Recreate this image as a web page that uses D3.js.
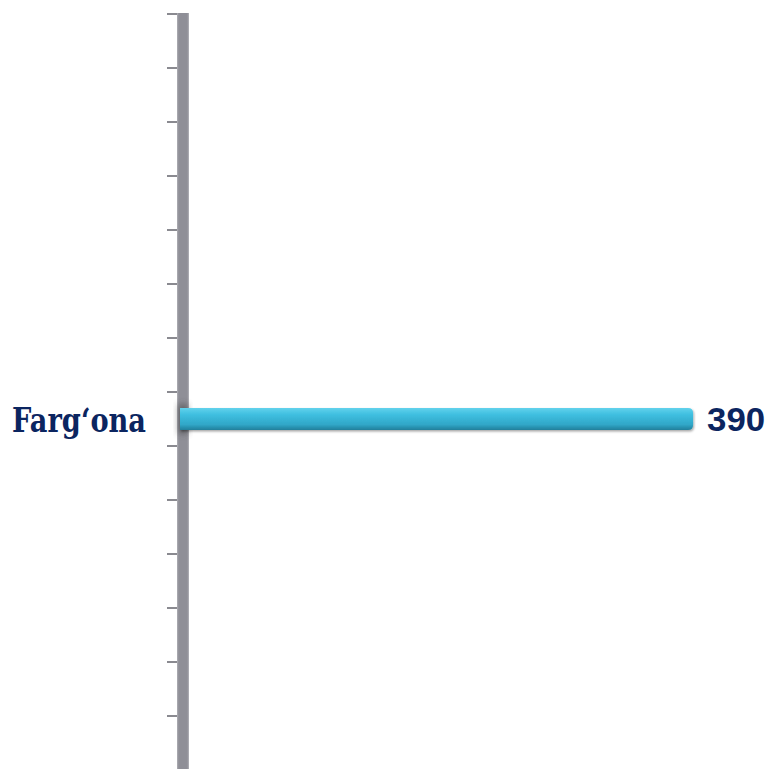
<!DOCTYPE html>
<html><head><meta charset="utf-8">
<script src="https://cdn.jsdelivr.net/npm/d3@7"></script>
<style>html,body{margin:0;padding:0;background:#fff;overflow:hidden}</style>
</head><body>
<svg id="c" width="770" height="769"></svg>
<script>
// Data
const categories = ["r1","r2","r3","r4","r5","r6","r7","Farg‘ona","r9","r10","r11","r12","r13","r14"];
const labels = ["","","","","","","","Farg‘ona","","","","","",""];
const values = [null,null,null,null,null,null,null,390,null,null,null,null,null,null];
const xMax = 450;

const svg = d3.select("#c");
const defs = svg.append("defs");
const g1 = defs.append("linearGradient").attr("id","barGrad").attr("x1",0).attr("y1",0).attr("x2",0).attr("y2",1);
g1.append("stop").attr("offset","0%").attr("stop-color","#62d2ec");
g1.append("stop").attr("offset","30%").attr("stop-color","#3fbfe0");
g1.append("stop").attr("offset","75%").attr("stop-color","#30a7c8");
g1.append("stop").attr("offset","100%").attr("stop-color","#217f9b");
const f = defs.append("filter").attr("id","sh").attr("x","-5%").attr("y","-50%").attr("width","110%").attr("height","220%");
f.append("feDropShadow").attr("dx",1).attr("dy",1.5).attr("stdDeviation",1.2).attr("flood-color","#000").attr("flood-opacity",0.35);
const fb = defs.append("filter").attr("id","blur").attr("x","-50%").attr("y","-50%").attr("width","200%").attr("height","200%");
fb.append("feGaussianBlur").attr("stdDeviation",3);
const g2 = defs.append("linearGradient").attr("id","axGrad").attr("x1",0).attr("y1",0).attr("x2",1).attr("y2",0);
g2.append("stop").attr("offset","0%").attr("stop-color","#b0b0b6");
g2.append("stop").attr("offset","15%").attr("stop-color","#8f8f97");
g2.append("stop").attr("offset","85%").attr("stop-color","#8f8f97");
g2.append("stop").attr("offset","100%").attr("stop-color","#b4b4ba");

const y = d3.scaleBand().domain(categories).range([14, 770]).paddingInner(0).paddingOuter(0);
const x = d3.scaleLinear().domain([0, xMax]).range([180, 772]);

// ticks at band edges
const edges = categories.map(c => y(c)).concat([y.range()[1]]);
svg.append("g").selectAll("line").data(edges).join("line")
  .attr("x1",167).attr("x2",180).attr("y1",d=>d).attr("y2",d=>d)
  .attr("stroke","#8a8a90").attr("stroke-width",2);

// axis bar
svg.append("rect").attr("x",177).attr("y",13).attr("width",12).attr("height",770)
  .attr("fill","url(#axGrad)");

// bars
const data = categories.map((c,i)=>({c, label: labels[i], v: values[i]})).filter(d=>d.v!=null);
const bh = 22;
// dark shading on axis behind bar start
svg.append("g").selectAll("rect").data(data).join("rect")
  .attr("x",178).attr("width",10)
  .attr("y",d=>y(d.c)+y.bandwidth()/2-15).attr("height",30)
  .attr("fill","#333").attr("opacity",0.45).attr("filter","url(#blur)");
svg.append("g").selectAll("path").data(data).join("path")
  .attr("filter","url(#sh)")
  .attr("fill","url(#barGrad)")
  .attr("d", d => {
    const x0 = x(0), x1 = x(d.v), yc = y(d.c)+y.bandwidth()/2, y0 = yc-bh/2, r = 5;
    return `M${x0},${y0} H${x1-r} Q${x1},${y0} ${x1},${y0+r} V${y0+bh-r} Q${x1},${y0+bh} ${x1-r},${y0+bh} H${x0} Z`;
  });

// value labels
svg.append("g").selectAll("text").data(data).join("text")
  .attr("x", d => x(d.v)+14).attr("y", d => y(d.c)+y.bandwidth()/2+12)
  .attr("font-family","'Liberation Sans', Arial, sans-serif").attr("font-weight","bold")
  .attr("font-size",34).attr("fill","#0b2560")
  .attr("textLength",58).attr("lengthAdjust","spacingAndGlyphs")
  .text(d => d.v);

// category labels
svg.append("g").selectAll("text").data(data).join("text")
  .attr("x", 146).attr("y", d => y(d.c)+y.bandwidth()/2+13)
  .attr("text-anchor","end")
  .attr("font-family","'DejaVu Serif', 'Liberation Serif', serif").attr("font-weight","bold")
  .attr("font-size",34).attr("fill","#0b2560")
  .attr("textLength",134).attr("lengthAdjust","spacingAndGlyphs")
  .text(d => d.label);
</script>
</body></html>
